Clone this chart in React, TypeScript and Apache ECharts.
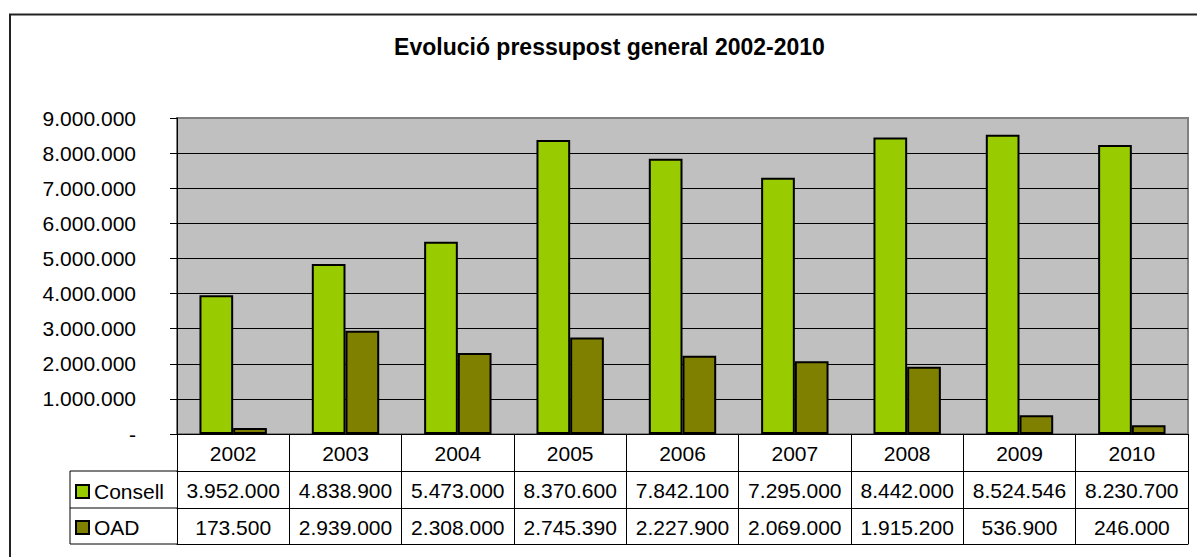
import React, { useEffect, useRef } from "react";
import * as echarts from "echarts";

const titleText = "Evolució pressupost general 2002-2010";
const years = ["2002", "2003", "2004", "2005", "2006", "2007", "2008", "2009", "2010"];
const seriesNames = ["Consell", "OAD"];
const consell = [3952000, 4838900, 5473000, 8370600, 7842100, 7295000, 8442000, 8524546, 8230700];
const oad = [173500, 2939000, 2308000, 2745390, 2227900, 2069000, 1915200, 536900, 246000];
const seriesColors = ["#99CC00", "#808000"];
const yMin = 0;
const yMax = 9000000;
const yInterval = 1000000;

const FONT = "'Liberation Sans', Arial, sans-serif";

const fmt = (v: number) => (v === 0 ? "-" : String(v).replace(/\B(?=(\d{3})+(?!\d))/g, "."));

export default function App() {
  const ref = useRef<HTMLDivElement>(null);
  useEffect(() => {
    if (!ref.current) return;
    const chart = echarts.init(ref.current, null, { renderer: "svg" });
    const lineStyle = { color: "#000", width: 1 };
    const tableAxis = (data: string[], offset: number, tickLen: number, showLabel: boolean) => ({
      type: "category",
      gridIndex: 0,
      position: "bottom",
      offset,
      boundaryGap: true,
      data,
      axisLine: { show: true, lineStyle },
      axisTick: { show: tickLen > 0, length: tickLen, inside: false, alignWithLabel: false, lineStyle },
      axisLabel: {
        show: showLabel,
        interval: 0,
        fontSize: 21,
        color: "#000",
        fontFamily: FONT,
        margin: 9,
      },
      splitLine: { show: false },
    });
    const legendBase = (name: string, top: number) => ({
      data: [name],
      left: 75,
      top,
      orient: "vertical",
      padding: 0,
      icon: "rect",
      itemWidth: 13,
      itemHeight: 13,
      selectedMode: false,
      itemStyle: { borderColor: "#000", borderWidth: 2 },
      textStyle: { fontSize: 21, color: "#000", fontFamily: FONT },
    });
    chart.setOption({
      animation: false,
      textStyle: { fontFamily: FONT },
      grid: {
        left: 177,
        right: 9,
        top: 118,
        bottom: 123,
        show: true,
        backgroundColor: "#C0C0C0",
        borderColor: "#808080",
        borderWidth: 2,
      },
      legend: [legendBase(seriesNames[0], 481), legendBase(seriesNames[1], 517)],
      xAxis: [
        tableAxis(years, 0, 37, true),
        tableAxis(consell.map(fmt), 37, 37, true),
        tableAxis(oad.map(fmt), 74, 36, true),
        tableAxis(years, 110, 0, false),
      ],
      yAxis: {
        type: "value",
        min: yMin,
        max: yMax,
        interval: yInterval,
        axisLine: { show: true, lineStyle },
        axisTick: { show: true, length: 7, inside: false, lineStyle },
        axisLabel: {
          fontSize: 21,
          color: "#000",
          fontFamily: FONT,
          margin: 41,
          formatter: (v: number) => fmt(v),
        },
        splitLine: { show: true, showMinLine: false, showMaxLine: false, lineStyle },
      },
      series: [
        {
          type: "bar",
          name: seriesNames[0],
          data: consell,
          xAxisIndex: 0,
          barGap: "0%",
          barCategoryGap: "40%",
          itemStyle: { color: seriesColors[0], borderColor: "#000", borderWidth: 2 },
        },
        {
          type: "bar",
          name: seriesNames[1],
          data: oad,
          xAxisIndex: 0,
          barGap: "0%",
          barCategoryGap: "40%",
          itemStyle: { color: seriesColors[1], borderColor: "#000", borderWidth: 2 },
        },
      ],
      graphic: [
        {
          type: "rect",
          shape: { x: 10, y: 14.5, width: 1250, height: 600 },
          style: { fill: "none", stroke: "#222", lineWidth: 2 },
          silent: true,
        },
        {
          type: "text",
          x: 609.5,
          y: 47,
          style: {
            text: titleText,
            align: "center",
            verticalAlign: "middle",
            font: `bold 23px ${FONT}`,
            fill: "#000",
          },
        },
        { type: "line", shape: { x1: 70, y1: 471, x2: 177, y2: 471 }, style: { stroke: "#000", lineWidth: 1 } },
        { type: "line", shape: { x1: 70, y1: 508, x2: 177, y2: 508 }, style: { stroke: "#000", lineWidth: 1 } },
        { type: "line", shape: { x1: 70, y1: 544, x2: 177, y2: 544 }, style: { stroke: "#000", lineWidth: 1 } },
        { type: "line", shape: { x1: 70, y1: 471, x2: 70, y2: 544 }, style: { stroke: "#000", lineWidth: 1 } },
      ],
    });
    return () => chart.dispose();
  }, []);
  return (
    <div
      ref={ref}
      style={{ position: "fixed", left: 0, top: 0, width: "100vw", height: "100vh", background: "#fff" }}
    />
  );
}
